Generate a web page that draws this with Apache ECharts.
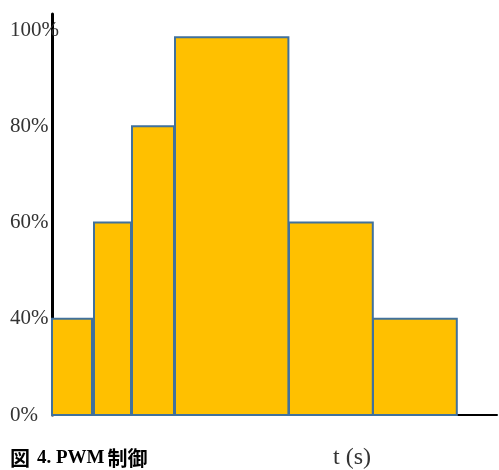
<!DOCTYPE html>
<html>
<head>
<meta charset="utf-8">
<script src="https://cdn.jsdelivr.net/npm/echarts@6/dist/echarts.min.js"></script>
<style>
  html, body { margin: 0; padding: 0; background: #fff; }
  #chart { width: 499px; height: 470px; }
</style>
</head>
<body>
<div id="chart"></div>
<script>
// PWM duty cycle per interval: start/end time and duty level (%)
const pulseStart = [0, 1.05, 2.0, 3.075, 5.925, 8.025];
const pulseEnd   = [1.0, 1.975, 3.05, 5.91, 8.02, 10.12];
const dutyLevel  = [40, 60, 80, 98.5, 60, 40];

// Schematic vertical scale: the baseline step is labelled 0%
const yTickValues = [20, 40, 60, 80, 100];
const yTickLabels = ['0%', '40%', '60%', '80%', '100%'];

const captionHead = '図';
const captionNum = '4. PWM';
const captionTail = '制御';
const timeLabel = 't (s)';

const seriesData = pulseStart.map((s, i) => [s, pulseEnd[i], dutyLevel[i]]);

const chart = echarts.init(document.getElementById('chart'));

chart.setOption({
  animation: false,
  backgroundColor: '#ffffff',
  grid: { left: 52, right: 2, top: 14, bottom: 55, containLabel: false },
  xAxis: {
    type: 'value',
    min: 0,
    max: 11.125,
    axisLine: { show: true, lineStyle: { color: '#000', width: 2 } },
    axisTick: { show: false },
    axisLabel: { show: false },
    splitLine: { show: false }
  },
  yAxis: {
    type: 'value',
    min: 20,
    max: 103.33,
    interval: 20,
    axisLine: { show: true, lineStyle: { color: '#000', width: 3 } },
    axisTick: { show: false },
    splitLine: { show: false },
    axisLabel: {
      showMaxLabel: false,
      align: 'left',
      margin: 42,
      fontFamily: 'Liberation Serif',
      fontSize: 21,
      color: '#333',
      formatter: function (v) {
        const idx = yTickValues.indexOf(Math.round(v));
        return (idx >= 0 && Math.abs(v - yTickValues[idx]) < 1e-6) ? yTickLabels[idx] : '';
      }
    }
  },
  title: [
    {
      text: '{c|' + captionHead + '}{n|' + captionNum + '}{c|' + captionTail + '}',
      left: 10,
      top: 448,
      padding: 0,
      textStyle: {
        rich: {
          c: { fontFamily: 'Noto Sans CJK JP', fontWeight: 'bold', fontSize: 20, color: '#000' },
          n: { fontFamily: 'Liberation Serif', fontWeight: 'bold', fontSize: 19, color: '#000', padding: [0, 3, 0, 7] }
        }
      }
    },
    {
      text: timeLabel,
      left: 333,
      top: 446,
      padding: 0,
      textStyle: { fontFamily: 'Liberation Serif', fontWeight: 'normal', fontSize: 24, color: '#333' }
    }
  ],
  series: [{
    type: 'custom',
    data: seriesData,
    encode: { x: [0, 1], y: 2 },
    renderItem: function (params, api) {
      const p0 = api.coord([api.value(0), api.value(2)]);
      const p1 = api.coord([api.value(1), 20]);
      return {
        type: 'rect',
        shape: { x: p0[0], y: p0[1], width: p1[0] - p0[0], height: p1[1] - p0[1] },
        style: { fill: '#FFC000', stroke: '#41719C', lineWidth: 2 }
      };
    }
  }]
});
</script>
</body>
</html>
